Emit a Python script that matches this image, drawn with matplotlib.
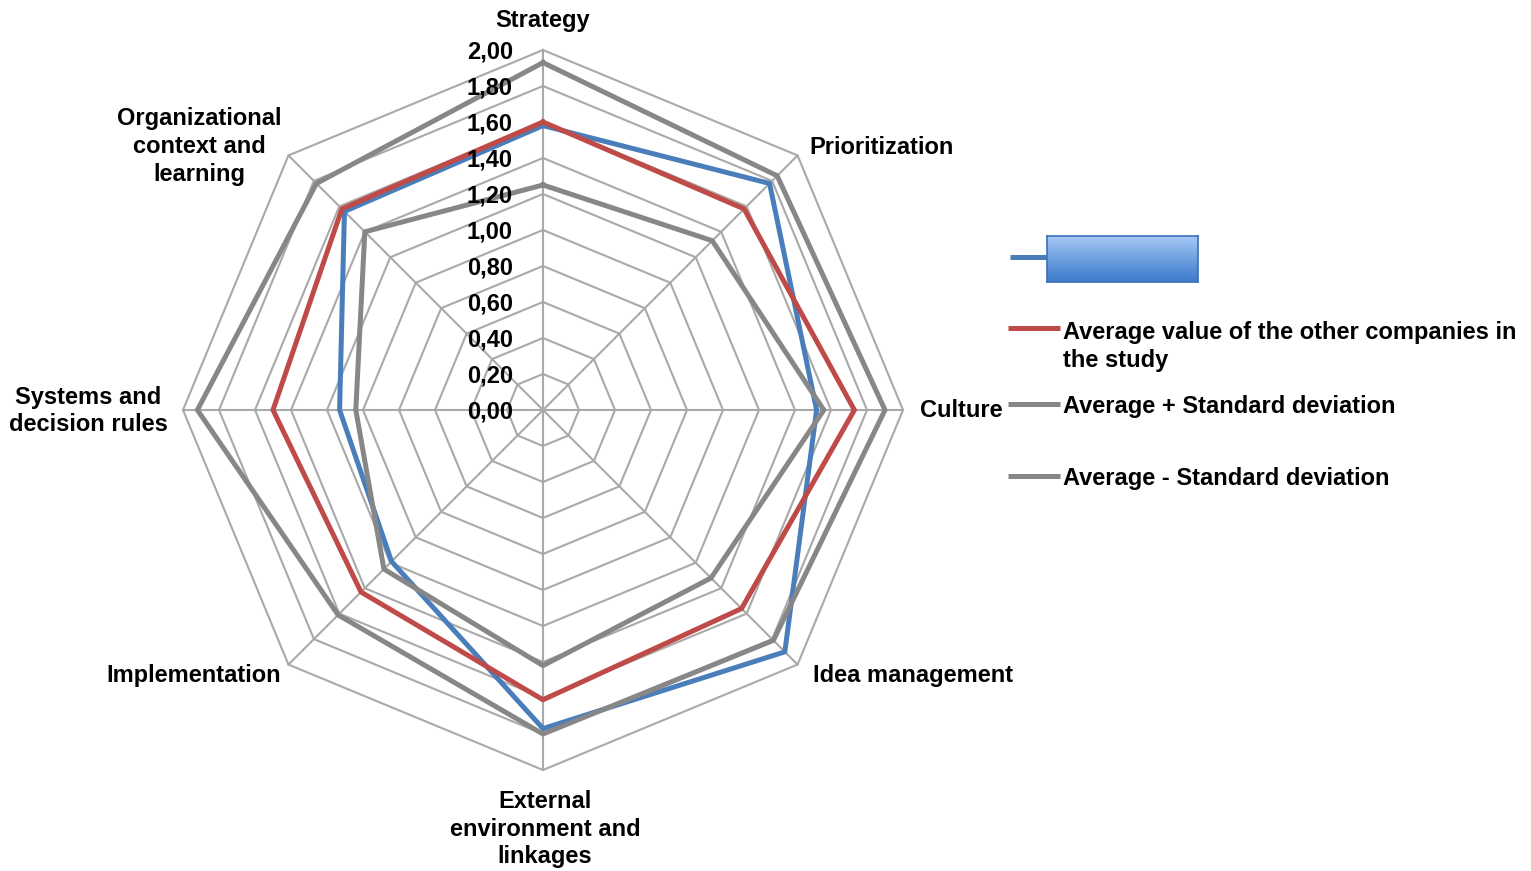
import numpy as np
import matplotlib.pyplot as plt
from matplotlib.lines import Line2D
from matplotlib.colors import LinearSegmentedColormap
from matplotlib.transforms import offset_copy

plt.rcParams['font.family'] = ['Liberation Sans', 'DejaVu Sans']

categories = ["Strategy", "Prioritization", "Culture", "Idea management",
              "External\nenvironment and\nlinkages", "Implementation",
              "Systems and\ndecision rules", "Organizational\ncontext and\nlearning"]
company = [1.58, 1.78, 1.52, 1.90, 1.77, 1.19, 1.13, 1.56]
average = [1.60, 1.58, 1.73, 1.56, 1.61, 1.43, 1.50, 1.58]
average_plus_sd = [1.93, 1.84, 1.90, 1.81, 1.80, 1.61, 1.92, 1.78]
average_minus_sd = [1.25, 1.33, 1.56, 1.32, 1.42, 1.25, 1.04, 1.40]
r_ticks = [0.0, 0.2, 0.4, 0.6, 0.8, 1.0, 1.2, 1.4, 1.6, 1.8, 2.0]
r_tick_labels = ["0,00", "0,20", "0,40", "0,60", "0,80", "1,00",
                 "1,20", "1,40", "1,60", "1,80", "2,00"]
legend_labels = ["", "Average value of the other companies in\nthe study",
                 "Average + Standard deviation", "Average - Standard deviation"]

W, H = 1531, 871
fig = plt.figure(figsize=(W / 100, H / 100), dpi=100)

# polar axes centred on the web
cx, cy, R = 543, 410, 360
ax = fig.add_axes([(cx - R) / W, (H - cy - R) / H, 2 * R / W, 2 * R / H], projection='polar')
ax.set_theta_offset(np.pi / 2)
ax.set_theta_direction(-1)
ax.set_ylim(0, 2.0)
ax.grid(False)
ax.spines['polar'].set_visible(False)
ax.set_xticks([])
ax.set_yticks([])
ax.patch.set_visible(False)

n = len(categories)
theta = np.linspace(0, 2 * np.pi, n, endpoint=False)
closed = np.append(theta, theta[0])

# octagonal grid and spokes
grid_color = '#a9a9a9'
for r in r_ticks[1:]:
    ax.plot(closed, [r] * (n + 1), color=grid_color, lw=1.5, clip_on=False, zorder=1)
for t in theta:
    ax.plot([t, t], [0, 2.0], color=grid_color, lw=1.5, clip_on=False, zorder=1)

series_colors = ['#4a7ebb', '#be4b48', '#878787', '#878787']
all_series = [company, average, average_plus_sd, average_minus_sd]
for vals, col in zip(all_series, series_colors):
    ax.plot(closed, vals + vals[:1], color=col, lw=3.6, zorder=3, clip_on=False)

# radial value labels along the top spoke
tick_tr = offset_copy(ax.transData, fig=fig, x=-30, y=-2, units='dots')
for v, lab in zip(r_ticks, r_tick_labels):
    ax.text(0, v, lab, transform=tick_tr, ha='right', va='center',
            fontsize=17, weight='bold', zorder=5)

# category labels, anchored at the outer vertex with a pixel offset
label_offsets = [(0, 30, 'center'), (12, 8, 'left'), (17, 0, 'left'), (15, -11, 'left'),
                 (2, -59, 'center'), (-7, -11, 'right'), (-15, -1, 'right'), (-89, 9, 'center')]
for t, lab, (dx, dy, ha) in zip(theta, categories, label_offsets):
    tr = offset_copy(ax.transData, fig=fig, x=dx, y=dy, units='dots')
    ax.text(t, 2.0, lab, transform=tr, ha=ha, va='center', multialignment='center',
            fontsize=17, weight='bold', linespacing=1.27)

# legend
def fx(x):
    return x / W


def fy(y):
    return 1 - y / H


key_rows = [(1010, 1047, 257), (1008, 1060, 328), (1008, 1060, 404), (1008, 1060, 476)]
text_tops = [None, 321, 395, 467]
for (x0, x1, y), col, lab, top in zip(key_rows, series_colors, legend_labels, text_tops):
    fig.add_artist(Line2D([fx(x0), fx(x1)], [fy(y), fy(y)], color=col, lw=3.6,
                          solid_capstyle='butt'))
    if lab:
        fig.text(fx(1063), fy(top), lab, ha='left', va='top', fontsize=17,
                 weight='bold', linespacing=1.27)

# blue box next to the first key
box = fig.add_axes([fx(1047), fy(282), fx(1198) - fx(1047), fy(236) - fy(282)])
grad = LinearSegmentedColormap.from_list('box', ['#a6c9f7', '#6d9fe0', '#3d7ccb'])
box.imshow(np.linspace(0, 1, 64).reshape(-1, 1), aspect='auto', cmap=grad,
           extent=[0, 1, 0, 1], origin='upper')
box.set_xticks([])
box.set_yticks([])
for s in box.spines.values():
    s.set_color('#3b6fb6')
    s.set_linewidth(1.2)

fig.savefig('out.png', dpi=100)
